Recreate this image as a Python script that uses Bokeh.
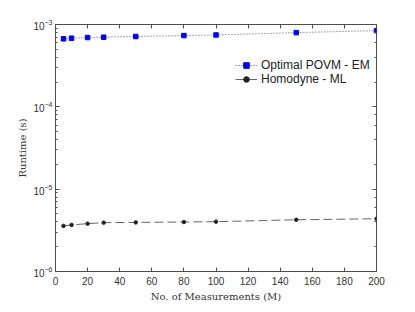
from bokeh.plotting import figure
from bokeh.models import (Range1d, LinearAxis, LogAxis, Legend, LegendItem, FixedTicker,
                          CustomJSTickFormatter)
from bokeh.embed import file_html
from bokeh.resources import INLINE

measurements = [5, 10, 20, 30, 50, 80, 100, 150, 200]
povm_em = [6.70e-4, 6.82e-4, 6.95e-4, 7.01e-4, 7.15e-4, 7.34e-4, 7.46e-4, 7.97e-4, 8.42e-4]
homodyne_ml = [3.58e-6, 3.68e-6, 3.81e-6, 3.92e-6, 3.95e-6, 3.99e-6, 4.03e-6, 4.25e-6, 4.37e-6]
x_ticks = [0, 20, 40, 60, 80, 100, 120, 140, 160, 180, 200]

AX = "#4d4d4d"

p = figure(width=400, height=304, y_axis_type="log",
           x_range=Range1d(0, 200), y_range=Range1d(1e-6, 1e-3),
           output_backend="svg", toolbar_location=None,
           min_border_left=55, min_border_top=24, min_border_right=24, min_border_bottom=27)
p.xgrid.visible = False
p.ygrid.visible = False
p.outline_line_color = AX
p.background_fill_color = "white"
p.border_fill_color = "white"

r1 = p.line(measurements, povm_em, line_color="#555555", line_dash="1 2", line_width=1)
r2 = p.scatter(measurements, povm_em, marker="square", size=4.5, fill_color="#0000ff", line_color="#0000ff")
r3 = p.line(measurements, homodyne_ml, line_color="#666666", line_dash="9 4", line_width=1)
r4 = p.scatter(measurements, homodyne_ml, marker="circle", size=3.5, fill_color="#222222", line_color="#222222")

def style(ax):
    ax.axis_line_color = AX
    ax.major_tick_line_color = AX
    ax.minor_tick_line_color = AX
    ax.major_tick_in = 4
    ax.major_tick_out = 0
    ax.minor_tick_in = 2
    ax.minor_tick_out = 0
    ax.major_label_text_font = "Liberation Sans"
    ax.major_label_text_font_size = "10px"
    ax.major_label_text_color = "#333333"
    ax.major_label_standoff = 3

xa = p.xaxis[0]
style(xa)
xa.ticker = FixedTicker(ticks=x_ticks)
xa.minor_tick_line_color = None
xa.major_label_standoff = 5
xa.axis_label = "No. of Measurements (M)"
xa.axis_label_text_font = "DejaVu Serif"
xa.axis_label_text_font_style = "normal"
xa.axis_label_text_font_size = "10px"
xa.axis_label_standoff = 3
xa.axis_label_text_color = "#333333"

ya = p.yaxis[0]
style(ya)
ya.axis_label = "Runtime (s)"
ya.axis_label_text_font = "DejaVu Serif"
ya.axis_label_text_font_style = "normal"
ya.axis_label_text_font_size = "10px"
ya.axis_label_standoff = 2
ya.axis_label_text_color = "#333333"

blank = CustomJSTickFormatter(code="return '';")
top = LinearAxis(ticker=FixedTicker(ticks=x_ticks), formatter=blank)
style(top)
top.minor_tick_line_color = None
top.axis_line_color = None
top.major_label_standoff = 0
p.add_layout(top, "above")
right = LogAxis(formatter=blank)
style(right)
right.axis_line_color = None
right.major_label_standoff = 0
p.add_layout(right, "right")

legend = Legend(items=[LegendItem(label="Optimal POVM - EM", renderers=[r1, r2]),
                       LegendItem(label="Homodyne - ML", renderers=[r3, r4])],
                location=(180, 185), border_line_color=None, background_fill_alpha=0,
                label_text_font="Liberation Sans", label_text_font_size="12px",
                label_text_color="#222222",
                glyph_width=22, glyph_height=14, label_height=14, spacing=0,
                padding=0, margin=0, label_standoff=4)
p.add_layout(legend, "center")

open("out.html", "w").write(file_html(p, INLINE))
